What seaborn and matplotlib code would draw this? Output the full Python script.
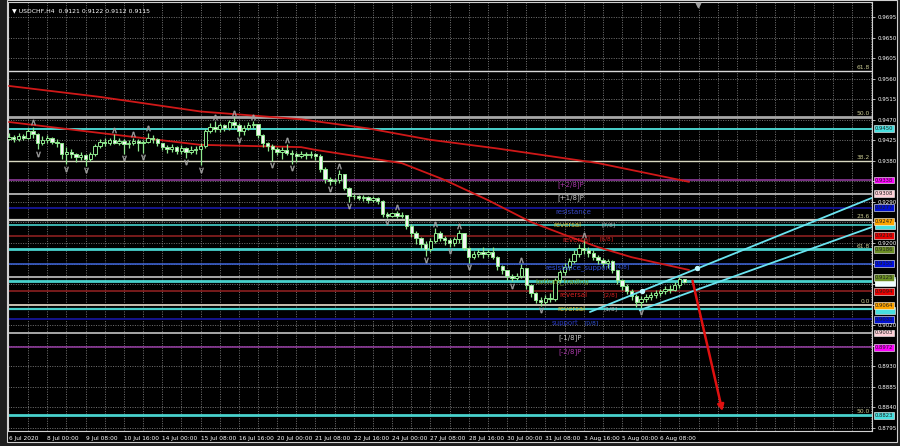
import matplotlib
matplotlib.use("Agg")
import matplotlib.pyplot as plt
import matplotlib.transforms as mtransforms
from matplotlib.patches import Rectangle
import numpy as np
import pandas as pd
import seaborn as sns

# USDCHF H4 candles, bar 0 = 6 Jul 16:00
first_open = 0.9428
closes = [0.9432, 0.9428, 0.9435, 0.9430, 0.9446, 0.9438, 0.9420, 0.9426, 0.9430, 0.9422,
          0.9418, 0.9396, 0.9400, 0.9394, 0.9388, 0.9392, 0.9385, 0.9395, 0.9412, 0.9422,
          0.9418, 0.9426, 0.9420, 0.9424, 0.9416, 0.9420, 0.9424, 0.9418, 0.9422, 0.9430,
          0.9428, 0.9418, 0.9410, 0.9405, 0.9410, 0.9402, 0.9408, 0.9400, 0.9404, 0.9406,
          0.9412, 0.9445, 0.9455, 0.9450, 0.9458, 0.9452, 0.9464, 0.9458, 0.9446, 0.9452,
          0.9458, 0.9460, 0.9436, 0.9418, 0.9412, 0.9406, 0.9400, 0.9404, 0.9398, 0.9394,
          0.9390, 0.9396, 0.9392, 0.9396, 0.9390, 0.9362, 0.9340, 0.9336, 0.9338, 0.9352,
          0.9320, 0.9304, 0.9302, 0.9298, 0.9300, 0.9294, 0.9298, 0.9292, 0.9264, 0.9260,
          0.9266, 0.9260, 0.9262, 0.9238, 0.9222, 0.9210, 0.9198, 0.9186, 0.9205, 0.9222,
          0.9212, 0.9206, 0.9200, 0.9208, 0.9222, 0.9190, 0.9170, 0.9176, 0.9180, 0.9176,
          0.9180, 0.9170, 0.9150, 0.9140, 0.9128, 0.9124, 0.9128, 0.9146, 0.9108, 0.9090,
          0.9076, 0.9070, 0.9080, 0.9078, 0.9118, 0.9136, 0.9148, 0.9160, 0.9176, 0.9190,
          0.9184, 0.9178, 0.9170, 0.9162, 0.9156, 0.9160, 0.9140, 0.9118, 0.9106, 0.9096,
          0.9084, 0.9070, 0.9078, 0.9082, 0.9086, 0.9090, 0.9094, 0.9100, 0.9098, 0.9108,
          0.9121, 0.9115]
highs = [0.9440, 0.9436, 0.9441, 0.9438, 0.9452, 0.9455, 0.9440, 0.9434, 0.9437, 0.9432,
         0.9428, 0.9420, 0.9410, 0.9405, 0.9398, 0.9400, 0.9396, 0.9400, 0.9416, 0.9428,
         0.9430, 0.9430, 0.9438, 0.9430, 0.9428, 0.9426, 0.9430, 0.9428, 0.9426, 0.9442,
         0.9436, 0.9430, 0.9420, 0.9414, 0.9416, 0.9412, 0.9414, 0.9410, 0.9412, 0.9412,
         0.9418, 0.9450, 0.9462, 0.9467, 0.9462, 0.9460, 0.9470, 0.9476, 0.9462, 0.9458,
         0.9464, 0.9468, 0.9460, 0.9438, 0.9422, 0.9416, 0.9410, 0.9410, 0.9416, 0.9404,
         0.9400, 0.9402, 0.9400, 0.9402, 0.9398, 0.9394, 0.9366, 0.9344, 0.9342, 0.9360,
         0.9352, 0.9322, 0.9308, 0.9306, 0.9306, 0.9302, 0.9304, 0.9300, 0.9294, 0.9268,
         0.9264, 0.9270, 0.9268, 0.9262, 0.9242, 0.9226, 0.9214, 0.9204, 0.9210, 0.9232,
         0.9226, 0.9216, 0.9210, 0.9214, 0.9228, 0.9222, 0.9192, 0.9182, 0.9186, 0.9192,
         0.9188, 0.9192, 0.9172, 0.9152, 0.9142, 0.9132, 0.9134, 0.9154, 0.9146, 0.9110,
         0.9092, 0.9082, 0.9086, 0.9090, 0.9124, 0.9142, 0.9156, 0.9168, 0.9184, 0.9198,
         0.9208, 0.9192, 0.9184, 0.9174, 0.9168, 0.9166, 0.9162, 0.9142, 0.9122, 0.9110,
         0.9100, 0.9088, 0.9084, 0.9088, 0.9092, 0.9098, 0.9100, 0.9106, 0.9108, 0.9114,
         0.9126, 0.9122]
lows = [0.9425, 0.9422, 0.9424, 0.9426, 0.9428, 0.9430, 0.9405, 0.9414, 0.9420, 0.9416,
        0.9410, 0.9384, 0.9372, 0.9386, 0.9378, 0.9382, 0.9368, 0.9380, 0.9390, 0.9408,
        0.9412, 0.9414, 0.9416, 0.9414, 0.9396, 0.9408, 0.9414, 0.9402, 0.9398, 0.9418,
        0.9420, 0.9412, 0.9404, 0.9398, 0.9400, 0.9396, 0.9396, 0.9386, 0.9394, 0.9396,
        0.9370, 0.9408, 0.9440, 0.9444, 0.9444, 0.9446, 0.9448, 0.9452, 0.9434, 0.9436,
        0.9448, 0.9452, 0.9430, 0.9410, 0.9402, 0.9380, 0.9392, 0.9385, 0.9392, 0.9374,
        0.9378, 0.9386, 0.9384, 0.9386, 0.9382, 0.9355, 0.9332, 0.9328, 0.9330, 0.9332,
        0.9316, 0.9290, 0.9296, 0.9294, 0.9292, 0.9288, 0.9290, 0.9286, 0.9258, 0.9254,
        0.9256, 0.9255, 0.9254, 0.9230, 0.9214, 0.9198, 0.9186, 0.9172, 0.9180, 0.9200,
        0.9204, 0.9196, 0.9192, 0.9194, 0.9200, 0.9184, 0.9156, 0.9164, 0.9170, 0.9168,
        0.9170, 0.9164, 0.9140, 0.9132, 0.9120, 0.9116, 0.9118, 0.9124, 0.9100, 0.9082,
        0.9068, 0.9062, 0.9066, 0.9070, 0.9074, 0.9112, 0.9130, 0.9142, 0.9156, 0.9170,
        0.9176, 0.9170, 0.9162, 0.9154, 0.9148, 0.9146, 0.9134, 0.9110, 0.9098, 0.9088,
        0.9076, 0.9060, 0.9058, 0.9070, 0.9076, 0.9080, 0.9084, 0.9088, 0.9090, 0.9094,
        0.9102, 0.9112]

# moving averages
long_ma_bar = [0, 19, 40, 61, 75, 88, 102, 123, 142]
long_ma_val = [0.9544, 0.9520, 0.9488, 0.9471, 0.9451, 0.9426, 0.9407, 0.9375, 0.9334]
short_ma_bar = [0, 19, 40, 61, 64, 82, 91, 100, 109, 116, 123, 130, 142]
short_ma_val = [0.9465, 0.9441, 0.9415, 0.9410, 0.9404, 0.9375, 0.9338, 0.9294, 0.9246,
                0.9218, 0.9191, 0.9169, 0.9141]

# horizontal levels
level_prices = [0.9577, 0.9476, 0.9450, 0.9380, 0.9338, 0.9308, 0.9277, 0.9250, 0.9240,
                0.9216, 0.9186, 0.9155, 0.9125, 0.9117, 0.9094, 0.9064, 0.9055, 0.9033,
                0.9003, 0.8972, 0.8823]
level_colors = ["#d8d8d8", "#a8a8a8", "#48d1cc", "#d8d8c0", "#8e3a9a", "#a8a8a8", "#14148c",
                "#c8c8c0", "#48d1cc", "#8b2020", "#48d1cc", "#3a5fcd", "#a8a8a8", "#48d1cc",
                "#8b2020", "#c8c0b0", "#48d1cc", "#14148c", "#a8a8a8", "#8e3a9a", "#48d1cc"]
level_widths = [1.0, 2.0, 1.4, 1.0, 1.2, 1.4, 1.4, 1.6, 1.2, 1.2, 2.0, 1.2, 1.4, 2.0,
                1.2, 1.4, 1.6, 1.4, 1.4, 1.2, 2.0]

fib_names = ["61.8", "50.0", "38.2", "23.6", "61.8", "0.0", "50.0"]
fib_prices = [0.9577, 0.9476, 0.9380, 0.9250, 0.9186, 0.9064, 0.8823]

murrey_names = ["[+2/8]P", "[+1/8]P", "resistance", "reversal", "reversal", "resistance_support",
                "bottom_trading", "reversal", "reversal", "support", "[-1/8]P", "[-2/8]P"]
murrey_prices = [0.9338, 0.9308, 0.9277, 0.9247, 0.9216, 0.9155, 0.9125, 0.9094, 0.9064,
                 0.9033, 0.9003, 0.8972]
murrey_bars = [114.5, 114.5, 114.0, 113.6, 115.6, 112.0, 110.0, 115.0, 114.5, 113.3, 114.7, 114.7]
murrey_colors = ["#a83aa8", "#c8c8c8", "#3848c8", "#d8c038", "#d82020", "#3050d8", "#6b8e23",
                 "#d82020", "#d8c038", "#2838c0", "#c8c8c8", "#a83aa8"]
octave_names = ["[7/8]", "[6/8]", "[4/8]", "[2/8]", "[1/8]", "[0/8]"]
octave_prices = [0.9247, 0.9216, 0.9155, 0.9094, 0.9064, 0.9033]
octave_bars = [123.8, 123.4, 126.6, 124.2, 124.2, 120.2]
octave_colors = ["#b0b0b0", "#d82020", "#3050d8", "#d82020", "#b0b0b0", "#3050d8"]

# coloured price tags on the right scale
tag_prices = [0.9450, 0.9338, 0.9308, 0.9277, 0.9247, 0.9216, 0.9186, 0.9155, 0.9125,
              0.9094, 0.9064, 0.9033, 0.9003, 0.8972, 0.8823]
tag_colors = ["#48e0e0", "#ff00ff", "#ffd0d8", "#0010d0", "#ffa500", "#e80000", "#6b8e23",
              "#0010e0", "#6b8e23", "#e80000", "#ffa500", "#0010d0", "#ffd0d8", "#ff00ff",
              "#48e0e0"]
# tags mostly hidden under their neighbours (only a coloured edge shows)
slip_prices = [0.9238, 0.9117, 0.9113, 0.9053]
slip_colors = ["#48e0e0", "#48e0e0", "#f0ffff", "#48e0e0"]

channel_up_bar = [121.3, 180.2]
channel_up_val = [0.9049, 0.9299]
channel_low_bar = [131.7, 180.2]
channel_low_val = [0.9053, 0.9235]
channel_dot_bar = [132.2, 143.6]
channel_dot_val = [0.9096, 0.9145]

arrow_from = (142.6, 0.9123)
arrow_to = (149.1, 0.8826)

price_ticks = [0.9695, 0.9650, 0.9605, 0.9560, 0.9515, 0.9470, 0.9425, 0.9380, 0.9335,
               0.9290, 0.9245, 0.9200, 0.9155, 0.9110, 0.9065, 0.9020, 0.8975, 0.8930,
               0.8885, 0.8840, 0.8795]
covered_ticks = [0.9335, 0.9245, 0.9155, 0.9110, 0.9065, 0.8975]
date_bars = [0, 8, 16, 24, 32, 40, 48, 56, 64, 72, 80, 88, 96, 104, 112, 120, 128, 136]
date_labels = ["6 Jul 2020", "8 Jul 00:00", "9 Jul 08:00", "10 Jul 16:00", "14 Jul 00:00",
               "15 Jul 08:00", "16 Jul 16:00", "20 Jul 00:00", "21 Jul 08:00", "22 Jul 16:00",
               "24 Jul 00:00", "27 Jul 08:00", "28 Jul 16:00", "30 Jul 00:00", "31 Jul 08:00",
               "3 Aug 16:00", "5 Aug 00:00", "6 Aug 08:00"]

sns.set_theme(style="dark", rc={"axes.facecolor": "black", "figure.facecolor": "#1e1e1e",
                                "text.color": "white", "xtick.color": "white",
                                "ytick.color": "white"})
plt.rcParams["font.family"] = ["DejaVu Sans"]

fig = plt.figure(figsize=(9, 4.46), dpi=100)
ax = fig.add_axes([8 / 900, 15 / 446, 864 / 900, 429 / 446])
ax.set_xlim(-0.2, 180.2)
ax.set_ylim(0.87884, 0.97278)

# window frame
fig.patches.append(Rectangle((7 / 900, 4 / 446), 890 / 900, 442 / 446, transform=fig.transFigure,
                             facecolor="black", edgecolor="#d0d0d0", lw=0.8, zorder=-5))

# grid
for b in range(4, 181, 4):
    ax.axvline(b, color="#9a9a9a", lw=0.5, ls=(0, (1.5, 2)), zorder=0)
for p in price_ticks:
    ax.axhline(p, color="#9a9a9a", lw=0.5, ls=(0, (1.5, 2)), zorder=0)

for p, c, w in zip(level_prices, level_colors, level_widths):
    ax.axhline(p, color=c, lw=w, zorder=1)

# moving averages
ma = pd.DataFrame({"bar": long_ma_bar, "val": long_ma_val})
sns.lineplot(data=ma, x="bar", y="val", color="#d01818", lw=1.3, ax=ax, zorder=3)
ma2 = pd.DataFrame({"bar": short_ma_bar, "val": short_ma_val})
sns.lineplot(data=ma2, x="bar", y="val", color="#d01818", lw=1.3, ax=ax, zorder=3)

# candles
df = pd.DataFrame({"close": closes, "high": highs, "low": lows})
df["open"] = df["close"].shift(1).fillna(first_open)
df["bar"] = np.arange(len(df))
bull = df["close"] >= df["open"]
green = "#8ee88e"
ax.vlines(df["bar"], df["low"], df["high"], color=green, lw=0.9, zorder=4)
body = (df["close"] - df["open"]).abs().clip(lower=0.00012)
bottom = df[["open", "close"]].min(axis=1)
ax.bar(df["bar"][bull], body[bull], bottom=bottom[bull], width=0.7,
       facecolor="black", edgecolor=green, lw=0.7, zorder=5)
ax.bar(df["bar"][~bull], body[~bull], bottom=bottom[~bull], width=0.7,
       facecolor="#f4f4f4", edgecolor=green, lw=0.7, zorder=5)

# fractals
h = df["high"].values
l = df["low"].values
for i in range(2, len(df) - 2):
    if h[i] > max(h[i - 2], h[i - 1], h[i + 1], h[i + 2]):
        ax.scatter(i, h[i] + 0.0009, marker=r"$\wedge$", s=14, color="#a0a0a0", lw=0.3, zorder=6)
    if l[i] < min(l[i - 2], l[i - 1], l[i + 1], l[i + 2]):
        ax.scatter(i, l[i] - 0.0009, marker=r"$\vee$", s=14, color="#a0a0a0", lw=0.3, zorder=6)

# channel
ax.plot(channel_up_bar, channel_up_val, color="#6ae4f0", lw=1.3, zorder=6)
ax.plot(channel_low_bar, channel_low_val, color="#6ae4f0", lw=1.3, zorder=6)
ax.scatter(channel_dot_bar, channel_dot_val, s=8, color="#c0f8ff", zorder=7)

ax.annotate("", xy=arrow_to, xytext=arrow_from,
            arrowprops=dict(arrowstyle="-|>", color="#e01010", lw=1.8, mutation_scale=9),
            zorder=8)

# murrey labels
for n, p, b, c in zip(murrey_names, murrey_prices, murrey_bars, murrey_colors):
    ax.text(b, p - 0.0002, n, color=c, fontsize=5.0, va="top", ha="left", zorder=7)
for n, p, b, c in zip(octave_names, octave_prices, octave_bars, octave_colors):
    ax.text(b, p - 0.0002, n, color=c, fontsize=4.2, va="top", ha="left", zorder=7)

for n, p in zip(fib_names, fib_prices):
    ax.text(179.8, p + 0.0002, n, color="#c8c890", fontsize=4.3, va="bottom", ha="right", zorder=7)

# right price scale
ax.yaxis.tick_right()
ax.set_yticks(price_ticks)
ax.set_yticklabels(["" if p in covered_ticks else f"{p:.4f}" for p in price_ticks], fontsize=4.0)
ax.tick_params(axis="y", length=2, width=0.5, pad=2, colors="white")
trans = mtransforms.blended_transform_factory(ax.transAxes, ax.transData)
for p, c in zip(slip_prices, slip_colors):
    ax.add_patch(Rectangle((1.003, p - 0.0008), 0.0235, 0.0016, transform=trans, clip_on=False,
                           facecolor=c, edgecolor="white", lw=0.4, zorder=8))
for p, c in zip(tag_prices, tag_colors):
    ax.text(1.0035, p, f"{p:.4f}", transform=trans, fontsize=3.8, color="#202020",
            va="center", ha="left", zorder=9, clip_on=False,
            bbox=dict(boxstyle="square,pad=0.18", facecolor=c, edgecolor="white", lw=0.4))

ax.set_xticks(date_bars)
ax.set_xticklabels(date_labels, fontsize=4.2, ha="left")
ax.tick_params(axis="x", length=2, width=0.5, pad=1.5, colors="white")
ax.set_xlabel("")
ax.set_ylabel("")
for s in ax.spines.values():
    s.set_color("#d0d0d0")
    s.set_linewidth(0.8)

ax.scatter([143.8], [0.9722], marker="v", s=10, color="#a0a0a0", zorder=9, clip_on=False)
ax.text(0.005, 0.985, "\u25bc USDCHF,H4  0.9121 0.9122 0.9112 0.9115", transform=ax.transAxes,
        fontsize=4.4, color="white", va="top", ha="left")

fig.savefig("out.png", dpi=100, facecolor=fig.get_facecolor())
